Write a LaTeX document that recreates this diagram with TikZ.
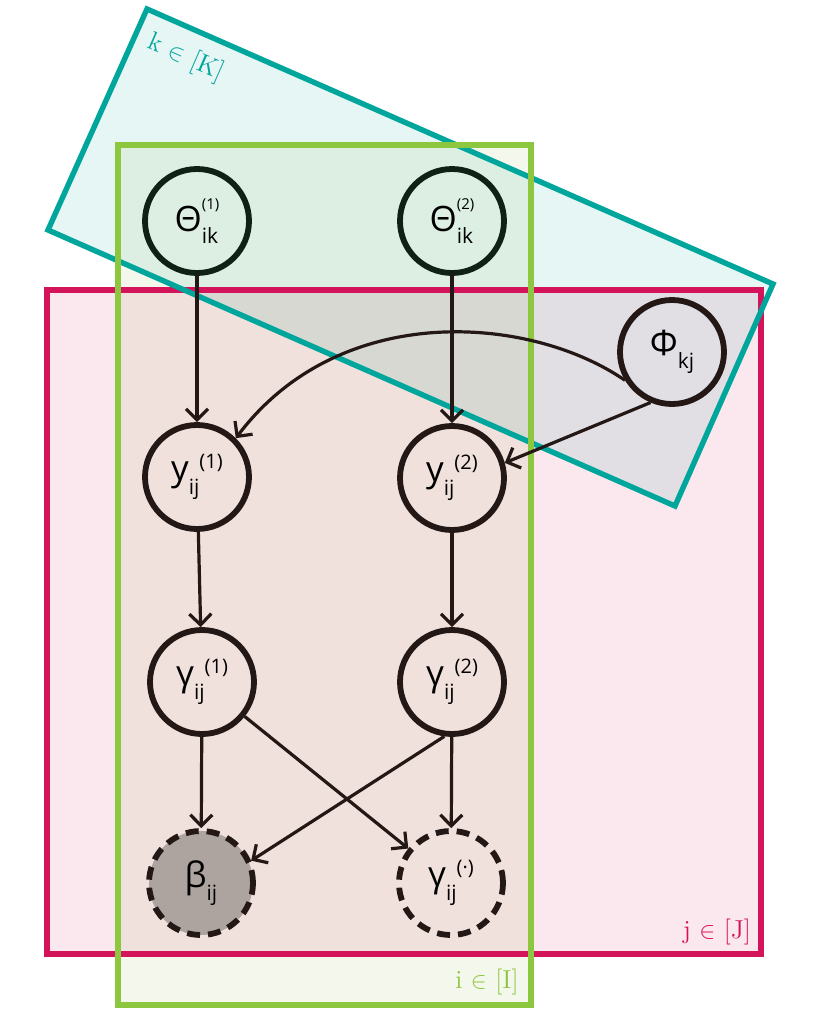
\documentclass[tikz,border=0pt]{standalone}
\usepackage{fontspec}
\usepackage{tikz}
\usetikzlibrary{arrows.meta}
\newfontfamily\nodefont{Open Sans}
\definecolor{tealline}{RGB}{0,166,156}
\definecolor{tealfill}{RGB}{230,246,245}
\definecolor{pinkline}{RGB}{212,20,90}
\definecolor{pinkfill}{RGB}{251,232,238}
\definecolor{greenline}{RGB}{141,198,63}
\definecolor{greenfill}{RGB}{244,248,236}
\definecolor{varcol}{RGB}{35,24,21}
\definecolor{topcol}{RGB}{15,32,20}
\definecolor{betafill}{RGB}{173,164,159}
\tikzstyle{var} = [circle, draw=varcol, line width=2.9pt,
    minimum size=52pt, inner sep=0pt,
    font=\nodefont\fontsize{17.5}{17.5}\selectfont]
\tikzstyle{latent} = [var, dash pattern=on 6.5pt off 4pt]
\tikzstyle{link} = [->, line width=1.6pt, draw=varcol]
\tikzstyle{plate} = [line width=2.7pt]
\tikzstyle{platelabel} = [inner sep=0pt, font=\fontsize{13}{13}\selectfont]
\newcommand{\subfont}{\fontsize{10.5}{10.5}\selectfont}
\newcommand{\supfont}{\fontsize{10}{10}\selectfont}
\newcommand{\stacked}[3]{#1\rlap{\raisebox{-6pt}{\subfont #2}}\raisebox{11pt}{\fontsize{7.5}{7.5}\selectfont #3}}
\newcommand{\chain}[3]{#1\raisebox{-7pt}{\subfont #2}\raisebox{6pt}{\supfont #3}}
\newcommand{\lowsub}[2]{#1\raisebox{-6.5pt}{\subfont #2}}

\begin{document}
\begin{tikzpicture}[x=0.5pt, y=-0.5pt, >={Straight Barb[length=5.5pt,width=11pt]}]
    \useasboundingbox (0,0) rectangle (830,1034);
    \begin{scope}[blend mode=multiply]
        \fill [pinkfill] (47,290) rectangle (761,954);
        \fill [tealfill] (147,9) -- (773,284) -- (675,506) -- (48,230) -- cycle;
        \fill [greenfill] (118,145) rectangle (531,1005);
    \end{scope}
    \draw [plate, draw=pinkline] (47,290) rectangle (761,954);
    \draw [plate, draw=tealline] (147,9) -- (773,284) -- (675,506) -- (48,230) -- cycle;
    \draw [plate, draw=greenline] (118,145) rectangle (531,1005);

    \node [platelabel, text=tealline, rotate=-23.6] (klabel) at (186,58) {k $\in$ [K]};
    \node [platelabel, text=pinkline] (jlabel) at (717,932) {j $\in$ [J]};
    \node [platelabel, text=greenline] (ilabel) at (487,982) {i $\in$ [I]};

    \node [var, draw=topcol] (theta1) at (197,221) {\stacked{Θ}{ik}{(1)}};
    \node [var, draw=topcol] (theta2) at (452,221) {\stacked{Θ}{ik}{(2)}};
    \node [var] (phi) at (672,352) {\lowsub{Φ}{kj}};
    \node [var] (y1) at (197,477) {\chain{y}{ij}{(1)}};
    \node [var] (y2) at (452,478) {\chain{y}{ij}{(2)}};
    \node [var] (gamma1) at (202,682) {\chain{γ}{ij}{(1)}};
    \node [var] (gamma2) at (452,682) {\chain{γ}{ij}{(2)}};
    \node [latent, fill=betafill] (beta) at (201,883) {\lowsub{β}{ij}};
    \node [latent] (gammadot) at (451,883) {\chain{γ}{ij}{(·)}};

    \draw [link] (theta1) -- (y1);
    \draw [link] (theta2) -- (y2);
    \draw [link] (phi.211) .. controls (530,315) and (340,300) .. (y1.45);
    \draw [link] (phi.247) -- (y2.16);
    \draw [link] (y1) -- (gamma1);
    \draw [link] (y2) -- (gamma2);
    \draw [link] (gamma1) -- (beta);
    \draw [link] (gamma1) -- (gammadot);
    \draw [link] (gamma2.262) -- (beta.24);
    \draw [link] (gamma2) -- (gammadot);
\end{tikzpicture}
\end{document}
